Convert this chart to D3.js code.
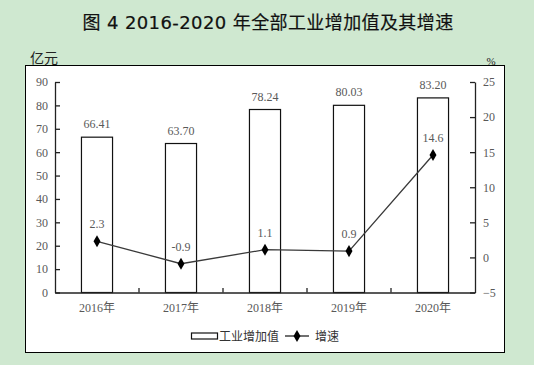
<!DOCTYPE html>
<html>
<head>
<meta charset="utf-8">
<script src="https://cdn.jsdelivr.net/npm/d3@7/dist/d3.min.js"></script>
<style>
  body { margin: 0; background: #cfe8d0; }
  svg { display: block; }
</style>
</head>
<body>
<svg id="chart"></svg>
<script>
// chart data
var years = ["2016年", "2017年", "2018年", "2019年", "2020年"];
var valueAdded = [66.41, 63.70, 78.24, 80.03, 83.20];
var growth = [2.3, -0.9, 1.1, 0.9, 14.6];
var leftTicks = [0, 10, 20, 30, 40, 50, 60, 70, 80, 90];
var rightTicks = [-5, 0, 5, 10, 15, 20, 25];

var W = 534, H = 365;
var plot = {left: 55, right: 475, top: 82, bottom: 292.5};
var numFont = "'Liberation Serif', 'Noto Sans CJK SC', serif";
var textGray = "#595959";

var svg = d3.select("#chart").attr("width", W).attr("height", H);

// background + white panel
svg.append("rect").attr("width", W).attr("height", H).attr("fill", "#cfe8d0");
svg.append("rect")
    .attr("x", 25.5).attr("y", 65.5).attr("width", 479).attr("height", 287)
    .attr("fill", "white").attr("stroke", "black").attr("stroke-width", 1);

// title
svg.append("text")
    .attr("x", 268).attr("y", 29)
    .attr("text-anchor", "middle")
    .style("font-family", "'DejaVu Sans', 'Noto Sans CJK SC', sans-serif")
    .style("font-size", "18px")
    .style("letter-spacing", "0.4px")
    .attr("fill", "#111").attr("stroke", "#111").attr("stroke-width", 0.2)
    .text("图 4 2016-2020 年全部工业增加值及其增速");

// unit labels
svg.append("text").attr("x", 30).attr("y", 63)
    .style("font-family", "'Noto Sans CJK SC', sans-serif").style("font-size", "14px")
    .attr("fill", "#222").text("亿元");
svg.append("text").attr("x", 491).attr("y", 65).attr("text-anchor", "middle")
    .style("font-family", numFont).style("font-size", "11px")
    .attr("fill", "#222").text("%");

// scales
var x = d3.scaleBand().domain(years).range([plot.left, plot.right]).paddingInner(0.63).paddingOuter(0.315);
var yL = d3.scaleLinear().domain([0, 90]).range([plot.bottom, plot.top]);
var yR = d3.scaleLinear().domain([-5, 25]).range([plot.bottom, plot.top]);
var cx = function(d, i) { return x(years[i]) + x.bandwidth() / 2; };

// left axis
var gL = svg.append("g").attr("transform", "translate(" + plot.left + ",0)")
    .call(d3.axisLeft(yL).tickValues(leftTicks).tickSizeInner(-5).tickSizeOuter(0).tickPadding(7));
// right axis
var gR = svg.append("g").attr("transform", "translate(" + plot.right + ",0)")
    .call(d3.axisRight(yR).tickValues(rightTicks).tickSizeInner(-5).tickSizeOuter(0).tickPadding(8));
[gL, gR].forEach(function(g) {
  g.select(".domain").attr("stroke", "#222").attr("stroke-width", 1.3);
  g.selectAll(".tick line").attr("stroke", "#222").attr("stroke-width", 1.3);
  g.selectAll(".tick text").attr("fill", textGray)
      .style("font-family", numFont).style("font-size", "12px");
});

// bars
svg.selectAll(".bar").data(valueAdded).enter().append("rect")
    .attr("class", "bar")
    .attr("x", function(d, i) { return x(years[i]); })
    .attr("y", function(d) { return yL(d); })
    .attr("width", x.bandwidth())
    .attr("height", function(d) { return yL(0) - yL(d); })
    .attr("fill", "white").attr("stroke", "#111").attr("stroke-width", 1.2);

svg.selectAll(".barlabel").data(valueAdded).enter().append("text")
    .attr("x", cx)
    .attr("y", function(d) { return yL(d) - 9; })
    .attr("text-anchor", "middle")
    .style("font-family", numFont).style("font-size", "12px")
    .attr("fill", textGray)
    .text(function(d) { return d.toFixed(2); });

// x axis
var gX = svg.append("g").attr("transform", "translate(0," + plot.bottom + ")")
    .call(d3.axisBottom(x).tickSize(0).tickPadding(11));
gX.select(".domain").attr("stroke", "#222").attr("stroke-width", 1.3);
gX.selectAll(".tick text").attr("fill", textGray)
    .style("font-family", numFont).style("font-size", "12px");
// boundary ticks between categories
gX.selectAll(".sep").data(d3.range(1, years.length)).enter().append("line")
    .attr("x1", function(i) { return plot.left + i * x.step(); })
    .attr("x2", function(i) { return plot.left + i * x.step(); })
    .attr("y1", 0).attr("y2", -4.5)
    .attr("stroke", "#222").attr("stroke-width", 1.3);

// growth line
var line = d3.line().x(cx).y(function(d) { return yR(d); });
svg.append("path").datum(growth)
    .attr("d", line).attr("fill", "none")
    .attr("stroke", "#3a3a3a").attr("stroke-width", 1.3);
svg.selectAll(".pt").data(growth).enter().append("path")
    .attr("d", d3.symbol().type(d3.symbolDiamond).size(42))
    .attr("transform", function(d, i) { return "translate(" + cx(d, i) + "," + yR(d) + ")"; })
    .attr("fill", "black");
svg.selectAll(".ptlabel").data(growth).enter().append("text")
    .attr("x", cx)
    .attr("y", function(d) { return yR(d) - 13; })
    .attr("text-anchor", "middle")
    .style("font-family", numFont).style("font-size", "12px")
    .attr("fill", textGray)
    .text(function(d) { return d; });

// legend
var lg = svg.append("g");
lg.append("rect").attr("x", 191.5).attr("y", 333).attr("width", 26).attr("height", 6)
    .attr("fill", "white").attr("stroke", "#111").attr("stroke-width", 1.2);
lg.append("text").attr("x", 219).attr("y", 341)
    .style("font-family", "'Noto Sans CJK SC', sans-serif").style("font-size", "12px")
    .attr("fill", "#333").text("工业增加值");
lg.append("line").attr("x1", 285).attr("x2", 309).attr("y1", 336).attr("y2", 336)
    .attr("stroke", "#222").attr("stroke-width", 1.3);
lg.append("path").attr("d", d3.symbol().type(d3.symbolDiamond).size(42))
    .attr("transform", "translate(297,336)").attr("fill", "black");
lg.append("text").attr("x", 315).attr("y", 341)
    .style("font-family", "'Noto Sans CJK SC', sans-serif").style("font-size", "12px")
    .attr("fill", "#333").text("增速");
</script>
</body>
</html>
